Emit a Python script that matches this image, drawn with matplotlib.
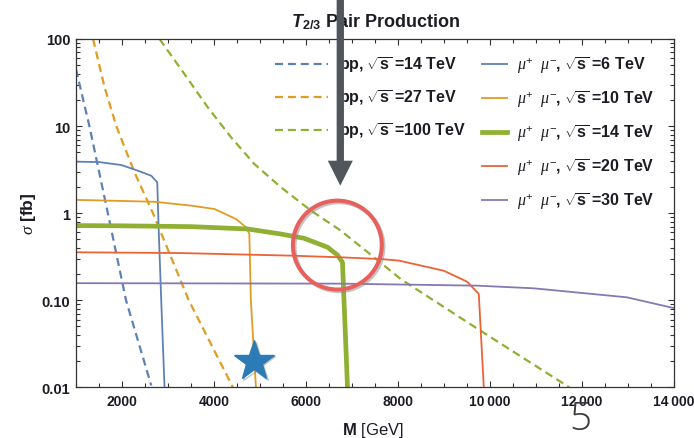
import matplotlib
matplotlib.use('Agg')
import matplotlib.pyplot as plt
import matplotlib.patheffects as pe
from matplotlib.patches import FancyArrow
from matplotlib.ticker import MultipleLocator, LogLocator, NullFormatter

plt.rcParams['font.family'] = ['Liberation Sans', 'DejaVu Sans']
plt.rcParams['mathtext.fontset'] = 'custom'
plt.rcParams['mathtext.rm'] = 'Liberation Sans'
plt.rcParams['mathtext.bf'] = 'Liberation Sans:bold'
plt.rcParams['mathtext.it'] = 'Liberation Serif:italic'
plt.rcParams['mathtext.bfit'] = 'Liberation Sans:italic:bold'

# pp -> T T cross sections [fb] vs mass [GeV]
pp14_m = [1000, 1291, 1692, 2087, 2635]
pp14_s = [45, 10, 1.0, 0.1, 0.0105]
pp27_m = [1371, 1620, 1876, 2270, 2672, 3450, 4410]
pp27_s = [100, 28, 10, 2.95, 1.0, 0.1, 0.01]
pp100_m = [2815, 3357, 3864, 4370, 4875, 5454, 6104, 6754, 7477, 8056, 9725, 11718]
pp100_s = [100, 39.6, 16.4, 7.43, 3.67, 1.98, 1.07, 0.63, 0.311, 0.175, 0.047, 0.01]

# mu+ mu- -> T T cross sections [fb]
mm6_m = [1000, 1500, 1985, 2347, 2635, 2766, 2794, 2852, 2924]
mm6_s = [3.9, 3.86, 3.57, 3.07, 2.69, 2.26, 0.72, 0.1, 0.01]
mm10_m = [1000, 2000, 2707, 3502, 4008, 4478, 4695, 4767, 4800, 4910]
mm10_s = [1.42, 1.38, 1.35, 1.22, 1.116, 0.857, 0.687, 0.576, 0.1, 0.01]
mm14_m = [1000, 2000, 3500, 4730, 5450, 5959, 6466, 6683, 6791, 6900]
mm14_s = [0.72, 0.715, 0.70, 0.658, 0.576, 0.514, 0.406, 0.33, 0.272, 0.01]
mm20_m = [1000, 3286, 5670, 6754, 7621, 8019, 8994, 9501, 9753, 9862]
mm20_s = [0.355, 0.348, 0.325, 0.311, 0.297, 0.285, 0.218, 0.163, 0.118, 0.01]
mm30_m = [1000, 4000, 6754, 9718, 10946, 12970, 14000]
mm30_s = [0.157, 0.156, 0.155, 0.147, 0.137, 0.108, 0.081]

# highlighted point (star) and ring centre
star_m, star_s = 4868, 0.020
ring_m, ring_s = 6679, 0.43

xticks = [2000, 4000, 6000, 8000, 10000, 12000, 14000]
xticklabels = ['2000', '4000', '6000', '8000', '10\u2009000', '12\u2009000', '14\u2009000']
yticks = [0.01, 0.1, 1, 10, 100]
yticklabels = ['0.01', '0.10', '1', '10', '100']

c_blue = '#5e81b5'
c_orange = '#e19c24'
c_green = '#8fb032'
c_red = '#eb6235'
c_purple = '#8778b3'
txt = '#1c1c24'

fig = plt.figure(figsize=(6.94, 4.39), dpi=100)
ax = fig.add_axes([0.1095, 0.1155, 0.862, 0.7934])

dash = dict(ls='--', dashes=(3.6, 2.2), lw=1.6)
l1, = ax.plot(pp14_m, pp14_s, color=c_blue, **dash)
l2, = ax.plot(pp27_m, pp27_s, color=c_orange, **dash)
l3, = ax.plot(pp100_m, pp100_s, color=c_green, **dash)

m1, = ax.plot(mm6_m, mm6_s, color=c_blue, lw=1.3)
m2, = ax.plot(mm10_m, mm10_s, color=c_orange, lw=1.3)
m3, = ax.plot(mm14_m, mm14_s, color=c_green, lw=3.4)
m4, = ax.plot(mm20_m, mm20_s, color=c_red, lw=1.3)
m5, = ax.plot(mm30_m, mm30_s, color=c_purple, lw=1.3)

ax.set_yscale('log')
ax.set_xlim(1000, 14000)
ax.set_ylim(0.01, 100)

ax.set_xticks(xticks, xticklabels, fontweight='bold', fontsize=10, color=txt)
ax.set_yticks(yticks, yticklabels, fontweight='bold', fontsize=10.5, color=txt)
ax.xaxis.set_minor_locator(MultipleLocator(500))
ax.yaxis.set_minor_locator(LogLocator(base=10, subs=range(2, 10)))
ax.yaxis.set_minor_formatter(NullFormatter())
ax.tick_params(which='both', direction='in', top=True, right=True,
               color='#333333', width=0.8)
ax.tick_params(which='major', length=4.5)
ax.tick_params(which='minor', length=2.8)
ax.tick_params(axis='x', pad=5)
ax.tick_params(axis='y', pad=4)
for sp in ax.spines.values():
    sp.set_color('#333333')
    sp.set_linewidth(0.9)

ax.set_xlabel(r'$\mathbf{M}$ [GeV]', fontsize=12, color=txt)
ax.xaxis.set_label_coords(0.496, -0.095)
ax.set_ylabel(r'$\sigma$ [fb]', fontsize=12.5, fontweight='bold', color=txt)
ax.yaxis.set_label_coords(-0.063, 0.5)

ax.text(0.5, 1.037, r'$\mathbfit{T}_{\mathbf{2/3}}$ Pair Production',
        transform=ax.transAxes, ha='center', va='baseline',
        fontsize=13, fontweight='bold', color=txt)

# legends: pp on the left column, mu+ mu- on the right
sq = r'$\ \sqrt{\mathbf{s}}\ $'
mu = r'$\mu^{+}\ \ \mu^{-}$'
leg_prop = {'weight': 'bold', 'size': 11.5}
leg1 = ax.legend([l1, l2, l3],
                 [f'pp,{sq}=14 TeV', f'pp,{sq}=27 TeV', f'pp,{sq}=100 TeV'],
                 loc='upper left', bbox_to_anchor=(0.3326, 0.956), frameon=False,
                 borderpad=0, borderaxespad=0, handlelength=3.31, handletextpad=0.69,
                 labelspacing=0.82, prop=leg_prop, labelcolor=txt)
ax.add_artist(leg1)
ax.legend([m1, m2, m3, m4, m5],
          [f'{mu},{sq}=6 TeV', f'{mu},{sq}=10 TeV', f'{mu},{sq}=14 TeV',
           f'{mu},{sq}=20 TeV', f'{mu},{sq}=30 TeV'],
          loc='upper left', bbox_to_anchor=(0.6786, 0.956), frameon=False,
          borderpad=0, borderaxespad=0, handlelength=1.56, handletextpad=0.63,
          labelspacing=0.82, prop=leg_prop, labelcolor=txt)

shadow = [pe.SimpleLineShadow(offset=(1.2, -1.2), shadow_color='#888888', alpha=0.5),
          pe.Normal()]
ax.plot([star_m], [star_s], marker='*', markersize=30, color='#2b7bb6',
        mec='#2b7bb6', ls='none', zorder=6, path_effects=shadow)
ax.plot([ring_m], [ring_s], marker='o', markersize=64, mfc='none',
        mec='#e8605c', mew=2.9, ls='none', zorder=6, path_effects=shadow)

# pointer arrow coming down from the top edge
arrow = FancyArrow(340.3 / 694, 1.0, 0, -(1.0 - (439 - 186.7) / 439),
                   width=7.3 / 694, head_width=25 / 694, head_length=25 / 439,
                   length_includes_head=True, color='#51565d', lw=0,
                   transform=fig.transFigure, zorder=10)
fig.add_artist(arrow)

fig.text(580 / 694, 1 - 420 / 439, '5', ha='center', va='center',
         fontsize=28, family='Open Sans', fontweight='light', color='#3a3a3a')

fig.savefig('out.png', dpi=100)
